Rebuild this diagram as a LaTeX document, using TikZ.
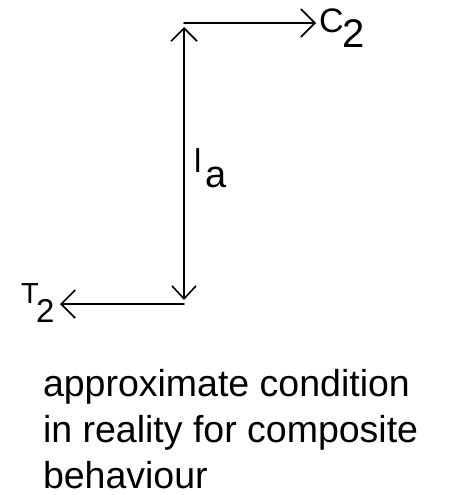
\documentclass[tikz,border=0pt]{standalone}
\usepackage{fontspec}
\setmainfont{Liberation Sans}
\usetikzlibrary{arrows.meta}
\tikzset{
  lbl/.style={inner sep=0pt, outer sep=0pt, anchor=base west},
  conn/.style={line width=1.6pt, line cap=round},
  tipx/.style={-{Straight Barb[length=14pt,width=28pt,line width=1.6pt]}},
}
\newcommand{\fsz}[2]{\fontsize{#1}{#2}\selectfont}
\begin{document}
\begin{tikzpicture}[x=1pt,y=-1pt]
\useasboundingbox (0,0) rectangle (448,495);
\coordinate (cornerTop) at (184,23);
\coordinate (cornerBot) at (184,304);
% labels
\node[lbl, font=\fsz{34}{34}] (C) at (319,33) {C};
\node[lbl, font=\fsz{40}{40}] (C2sub) at (342,48) {2};
\node[lbl, font=\fsz{29}{29}] (T) at (21,303) {T};
\node[lbl, font=\fsz{33}{33}] (T2sub) at (36,322) {2};
\node[lbl, font=\fsz{33}{33}] (l) at (194,172) {l};
\node[lbl, font=\fsz{38}{38}] (a) at (205,187) {a};
\coordinate (Ctip) at (316,23);
\coordinate (Ttip) at (60,304);
% connectors
\draw[conn, tipx] (cornerTop) -- (Ctip);
\draw[conn, tipx] (cornerBot) -- (Ttip);
\draw[conn, {Straight Barb[length=13pt,width=26pt,line width=1.6pt]}-{Straight Barb[length=13pt,width=24pt,line width=1.6pt]}, shorten <=4pt, shorten >=4pt] (cornerTop) -- (cornerBot);
% caption
\node[lbl, font=\fsz{37.5}{46}] (line1) at (43,396) {approximate condition};
\node[lbl, font=\fsz{37.5}{46}] (line2) at (43,442) {in reality for composite};
\node[lbl, font=\fsz{37.5}{46}] (line3) at (43,488) {behaviour};
\end{tikzpicture}
\end{document}
